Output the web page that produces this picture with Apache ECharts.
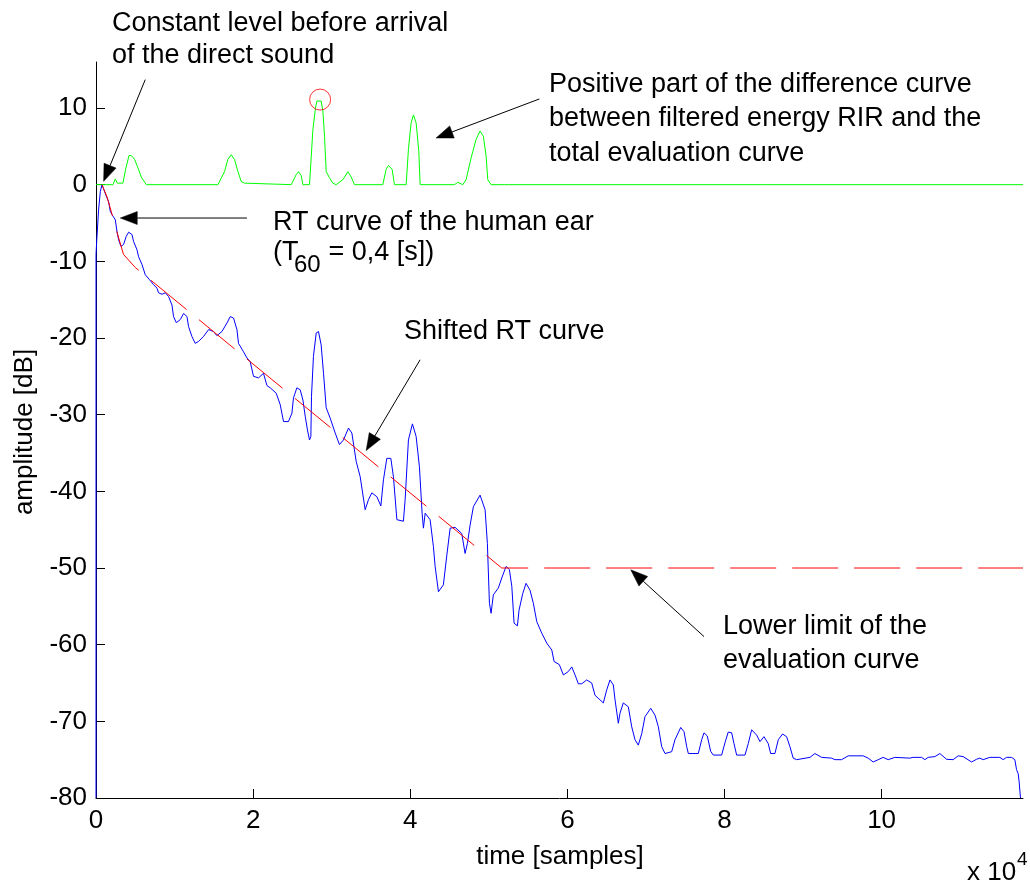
<!DOCTYPE html>
<html><head><meta charset="utf-8">
<script src="https://cdn.jsdelivr.net/npm/echarts@6/dist/echarts.min.js"></script>
<style>html,body{margin:0;padding:0;background:#fff}#c{width:1030px;height:883px}</style>
</head><body><div id="c"></div>
<script>
// ---- data (x in units of 10^4 samples, y in dB) ----
const xTicks = [0, 2, 4, 6, 8, 10];
const yTicks = [-80, -70, -60, -50, -40, -30, -20, -10, 0, 10];

const blueX = [0,0,0.01,0.033,0.055,0.076,0.097,0.131,0.16,0.182,0.204,0.246,0.267,0.288,0.318,0.351,0.385,0.415,0.458,0.478,0.522,0.542,0.585,0.627,0.682,0.733,0.776,0.796,0.84,0.882,0.924,0.967,0.987,1.022,1.073,1.115,1.158,1.178,1.221,1.263,1.305,1.369,1.433,1.496,1.539,1.603,1.667,1.709,1.751,1.794,1.814,1.878,1.921,1.963,2.005,2.069,2.132,2.176,2.218,2.294,2.345,2.387,2.45,2.494,2.514,2.557,2.599,2.634,2.663,2.692,2.718,2.735,2.743,2.768,2.803,2.832,2.866,2.896,2.93,2.981,3.045,3.099,3.15,3.214,3.257,3.312,3.363,3.426,3.468,3.511,3.575,3.626,3.659,3.702,3.753,3.786,3.83,3.913,3.935,3.977,4.028,4.075,4.117,4.151,4.168,4.19,4.253,4.295,4.317,4.359,4.422,4.466,4.508,4.571,4.656,4.698,4.728,4.762,4.804,4.889,4.953,4.982,5.008,5.029,5.058,5.122,5.165,5.22,5.262,5.293,5.322,5.364,5.385,5.433,5.474,5.525,5.567,5.611,5.674,5.738,5.802,5.831,5.898,5.949,6.013,6.056,6.098,6.14,6.183,6.247,6.31,6.352,6.416,6.458,6.501,6.543,6.585,6.607,6.649,6.67,6.712,6.776,6.819,6.861,6.903,6.947,6.988,7.061,7.116,7.158,7.201,7.243,7.328,7.37,7.443,7.485,7.519,7.54,7.667,7.71,7.739,7.781,7.824,7.858,7.964,8.006,8.048,8.092,8.121,8.155,8.261,8.303,8.346,8.41,8.452,8.503,8.557,8.588,8.642,8.685,8.74,8.791,8.833,8.875,8.919,9.088,9.151,9.237,9.364,9.406,9.491,9.575,9.766,9.829,9.893,9.957,10.02,10.084,10.169,10.36,10.402,10.509,10.551,10.593,10.678,10.742,10.827,10.911,10.975,11.038,11.145,11.209,11.251,11.293,11.378,11.505,11.547,11.59,11.654,11.696,11.718,11.738,11.751,11.768];
const blueY = [-80,-9.1,-7.2,-3.3,-0.9,0,-0.2,-1.5,-2.2,-3.5,-3.9,-4.6,-6.1,-7.2,-8.05,-7.8,-6.75,-6.2,-6.5,-7.4,-8.5,-9.4,-10.4,-11.75,-12.4,-13.05,-13.5,-14.1,-14.3,-14.1,-14.6,-15.7,-17.2,-18.0,-17.6,-16.8,-17.2,-18.5,-19.8,-20.7,-20.45,-19.8,-18.9,-19.15,-19.7,-19.15,-18.05,-17.2,-17.4,-18.9,-20.7,-21.8,-22.6,-23.1,-25.0,-25.2,-24.6,-26.2,-26.5,-27.2,-28.7,-30.9,-30.9,-29.8,-27.8,-26.5,-26.75,-28.1,-30.2,-32.0,-33.3,-32.85,-27.6,-22.4,-19.35,-19.15,-20.9,-24.6,-29.1,-30.45,-32.4,-33.9,-33.3,-31.75,-32.4,-36.1,-38.1,-42.4,-41.1,-40.2,-40.7,-41.9,-38.5,-35.7,-35.7,-38.1,-43.7,-43.9,-41.1,-33.3,-31.2,-32.85,-36.8,-42.85,-44.8,-42.85,-43.7,-47.2,-49.8,-53.1,-52.2,-48.3,-44.8,-44.7,-45.5,-48.1,-46.8,-44.4,-42.0,-40.5,-42.4,-46.8,-54.6,-55.9,-53.5,-52.6,-51.3,-49.8,-50.2,-52.4,-57.2,-57.55,-55.5,-53.3,-52.0,-52.9,-54.6,-57.0,-58.5,-59.8,-60.7,-62.2,-62.6,-63.95,-63.5,-62.9,-63.95,-65.1,-65.1,-64.6,-65.0,-66.6,-67.2,-67.6,-65.9,-64.6,-65.25,-67.2,-70.25,-68.95,-67.6,-68.1,-70.7,-72.4,-73.1,-71.6,-69.4,-68.3,-69.2,-70.7,-73.3,-74.2,-73.96,-72.4,-70.8,-71.35,-73.3,-74.2,-74.2,-72.4,-71.5,-71.9,-73.9,-74.4,-74.4,-72.8,-71.4,-71.5,-72.9,-74.4,-74.4,-72.9,-71.1,-71.8,-72.65,-72.0,-72.9,-74.2,-74.2,-72.4,-71.65,-72.0,-73.3,-74.8,-75.0,-74.7,-74.2,-74.7,-74.8,-75.0,-75.0,-74.5,-74.5,-74.8,-75.3,-75.0,-74.7,-75.0,-74.7,-74.8,-74.7,-74.7,-75.0,-74.7,-74.6,-74.2,-74.95,-75.0,-74.5,-74.6,-75.3,-74.95,-74.8,-75.0,-74.7,-74.7,-75.0,-74.7,-74.7,-75.0,-76.3,-76.8,-77.9,-80.0];

const greenX = [0,0.216,0.246,0.271,0.293,0.343,0.377,0.42,0.449,0.491,0.534,0.576,0.64,1.552,1.636,1.679,1.721,1.763,1.807,1.849,1.891,1.912,2.485,2.548,2.578,2.612,2.634,2.718,2.761,2.794,2.812,2.866,2.888,2.909,2.93,2.972,3.015,3.057,3.143,3.206,3.248,3.29,3.651,3.693,3.723,3.77,3.799,3.948,3.977,4.011,4.041,4.075,4.109,4.126,4.562,4.606,4.669,4.711,4.775,4.838,4.889,4.931,4.966,4.987,5.029,5.198,5.22,5.254,11.8];
const greenY = [0,0,0.75,0.2,0,0.2,2.0,3.8,3.8,3.3,2.2,1.0,0,0,1.7,3.3,3.9,3.3,1.7,0.4,0.2,0,0,1.3,1.7,1.2,0,0,7.2,10.0,10.9,10.9,9.6,6.3,1.7,0.9,0.2,0,0.65,1.7,1.0,0,0,2.0,2.5,2.0,0,0,4.6,8.05,9.1,8.05,4.35,0,0,0.3,0,0.65,3.5,5.9,7.0,6.3,3.7,0.65,0,0,0.2,0,0];

const redX = [0.076,0.14,0.18,0.27,0.35,0.5,5.165,11.8];
const redY = [0,-1.6,-3.0,-6.3,-9.1,-10.8,-50,-50];

const peakX = [2.853];
const peakY = [11.1];

// annotation arrows: [tailX, tailY, tipX, tipY] in data units
const arrows = [
  [0.627, 13.7, 0.097, 0.43],
  [1.921, -4.35, 0.309, -4.35],
  [5.644, 11.18, 4.329, 6.09],
  [4.126, -22.84, 3.439, -34.68],
  [7.74, -58.95, 6.807, -50.24]
];

const FONT = "'Liberation Sans', Arial, Helvetica, sans-serif";
const zip = (a, b) => a.map((v, i) => [v, b[i]]);

const chart = echarts.init(document.getElementById('c'), null, {renderer: 'canvas'});
const option = {
  animation: false,
  backgroundColor: '#ffffff',
  grid: {left: 96, right: 7, top: 62, bottom: 85, containLabel: false},
  xAxis: {
    type: 'value', min: 0, max: 11.8, interval: 2,
    axisLine: {show: true, onZero: false, lineStyle: {color: '#000', width: 1}},
    axisTick: {show: true, inside: true, length: 9, lineStyle: {color: '#000'}, customValues: xTicks},
    axisLabel: {customValues: xTicks, margin: 10, fontSize: 26, fontFamily: FONT, color: '#000'},
    splitLine: {show: false}
  },
  yAxis: {
    type: 'value', min: -80, max: 16, interval: 10,
    axisLine: {show: true, onZero: false, lineStyle: {color: '#000', width: 1}},
    axisTick: {show: true, inside: true, length: 9, lineStyle: {color: '#000'}, customValues: yTicks},
    axisLabel: {customValues: yTicks, margin: 9, fontSize: 26, fontFamily: FONT, color: '#000'},
    splitLine: {show: false}
  },
  series: [
    {type: 'line', name: 'energy', data: zip(blueX, blueY), showSymbol: false, symbol: 'none',
     lineStyle: {color: '#0000ff', width: 1}, z: 2, clip: true},
    {type: 'line', name: 'difference', data: zip(greenX, greenY), showSymbol: false, symbol: 'none',
     lineStyle: {color: '#00ff00', width: 1}, z: 3, clip: true},
    {type: 'line', name: 'evaluation', data: zip(redX, redY), showSymbol: false, symbol: 'none',
     lineStyle: {color: '#ff0000', width: 1, type: [46, 16], dashOffset: 13}, z: 4, clip: true},
    {type: 'scatter', name: 'peak', data: zip(peakX, peakY), symbol: 'circle', symbolSize: 21,
     itemStyle: {color: 'rgba(0,0,0,0)', borderColor: '#ff0000', borderWidth: 1}, z: 5}
  ]
};
chart.setOption(option);

function txt(text, x, y, extra) {
  return Object.assign({type: 'text', x: x, y: y, z: 100,
    style: Object.assign({text: text, fontSize: 27, fontFamily: FONT, fill: '#000',
      align: 'left', verticalAlign: 'middle'}, (extra && extra.style) || {})},
    extra ? {rotation: extra.rotation || 0} : {});
}

const graphics = [
  txt('Constant level before arrival', 112, 23.5),
  txt('of the direct sound', 112, 56),
  txt('Positive part of the difference curve', 549, 84.5),
  txt('between filtered energy RIR and the', 549, 119),
  txt('total evaluation curve', 549, 154),
  txt('RT curve of the human ear', 273, 223),
  txt('(T', 273, 253),
  txt('60', 294, 265, {style: {fontSize: 24}}),
  txt(' = 0,4 [s])', 321, 253),
  txt('Shifted RT curve', 404, 332),
  txt('Lower limit of the', 723, 627),
  txt('evaluation curve', 723, 661),
  txt('time [samples]', 560, 857, {style: {fontSize: 26, align: 'center'}}),
  txt('x 10', 967, 873, {style: {fontSize: 26}}),
  txt('4', 1017, 860, {style: {fontSize: 19}}),
  txt('amplitude [dB]', 25, 432, {rotation: Math.PI / 2, style: {fontSize: 26, align: 'center'}})
];

arrows.forEach(a => {
  const t = chart.convertToPixel({gridIndex: 0}, [a[0], a[1]]);
  const p = chart.convertToPixel({gridIndex: 0}, [a[2], a[3]]);
  const dx = p[0] - t[0], dy = p[1] - t[1];
  const len = Math.sqrt(dx * dx + dy * dy);
  const ux = dx / len, uy = dy / len;
  const L = 17, W = 6.5;
  const bx = p[0] - ux * L, by = p[1] - uy * L;
  graphics.push({type: 'line', z: 100, shape: {x1: t[0], y1: t[1], x2: bx, y2: by},
    style: {stroke: '#000', lineWidth: 1}});
  graphics.push({type: 'polygon', z: 100,
    shape: {points: [[p[0], p[1]], [bx - uy * W, by + ux * W], [bx + uy * W, by - ux * W]]},
    style: {fill: '#000', stroke: '#000', lineWidth: 0.5}});
});

chart.setOption({graphic: {elements: graphics}});
</script>
</body></html>
